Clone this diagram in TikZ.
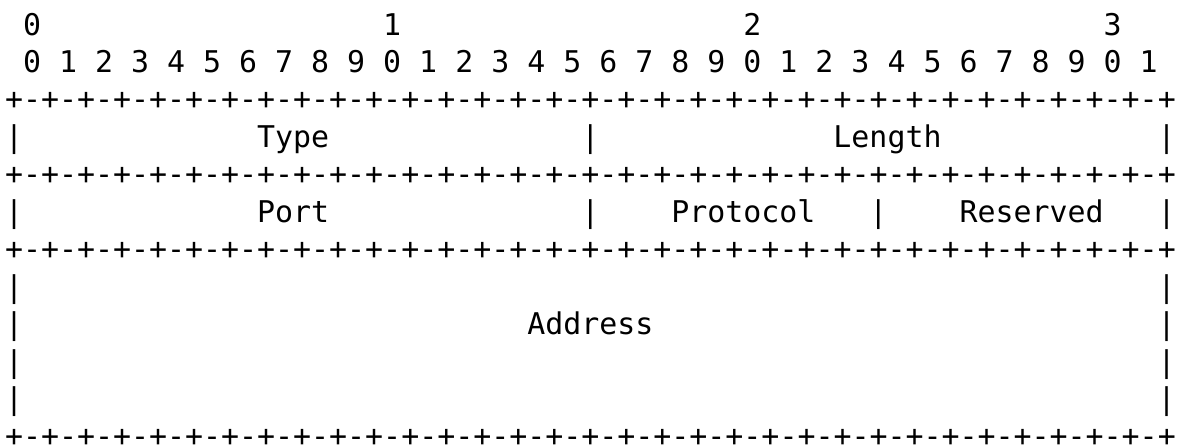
\documentclass[tikz,border=0pt]{standalone}
\usepackage{fontspec}
\newfontfamily\monof{DejaVu Sans Mono}
\tikzset{
  mono/.style={inner sep=0pt, outer sep=0pt, text=black, font=\monof\fontsize{14.96pt}{18pt}\selectfont},
  ch/.style={mono, anchor=base west},
}
% column x and line baseline y (pt)
\newcommand{\cx}[1]{2.5pt+#1*9.005pt}
\newcommand{\ly}[1]{-17.55pt-(#1-1)*18.72pt}
\begin{document}
\begin{tikzpicture}
\useasboundingbox (0,0) rectangle (589pt,-224pt);
% line 1: decade digits
\foreach \c/\d in {1/0,21/1,41/2,61/3}
  \node[ch] (dec\d) at ({\cx{\c}},{\ly{1}}) {\d};
% line 2: bit digits
\foreach \i in {0,...,31}{
  \pgfmathtruncatemacro{\dg}{mod(\i,10)}
  \pgfmathtruncatemacro{\cc}{2*\i+1}
  \node[ch] (bit\i) at ({\cx{\cc}},{\ly{2}}) {\dg};
}
% separator lines
\foreach \k in {3,5,7,12}
  \node[ch] (sep\k) at ({\cx{0}},{\ly{\k}}) {+-+-+-+-+-+-+-+-+-+-+-+-+-+-+-+-+-+-+-+-+-+-+-+-+-+-+-+-+-+-+-+-+};
% line 4
\foreach \c in {0,32,64}
  \node[ch] (barA\c) at ({\cx{\c}},{\ly{4}}) {|};
\node[ch] (type) at ({\cx{14}},{\ly{4}}) {Type};
\node[ch] (length) at ({\cx{46}},{\ly{4}}) {Length};
% line 6
\foreach \c in {0,32,48,64}
  \node[ch] (barB\c) at ({\cx{\c}},{\ly{6}}) {|};
\node[ch] (port) at ({\cx{14}},{\ly{6}}) {Port};
\node[ch] (protocol) at ({\cx{37}},{\ly{6}}) {Protocol};
\node[ch] (reserved) at ({\cx{53}},{\ly{6}}) {Reserved};
% lines 8-11
\foreach \k in {8,9,10,11}{
  \node[ch] (barL\k) at ({\cx{0}},{\ly{\k}}) {|};
  \node[ch] (barR\k) at ({\cx{64}},{\ly{\k}}) {|};
}
\node[ch] (address) at ({\cx{29}},{\ly{9}}) {Address};
\end{tikzpicture}
\end{document}
